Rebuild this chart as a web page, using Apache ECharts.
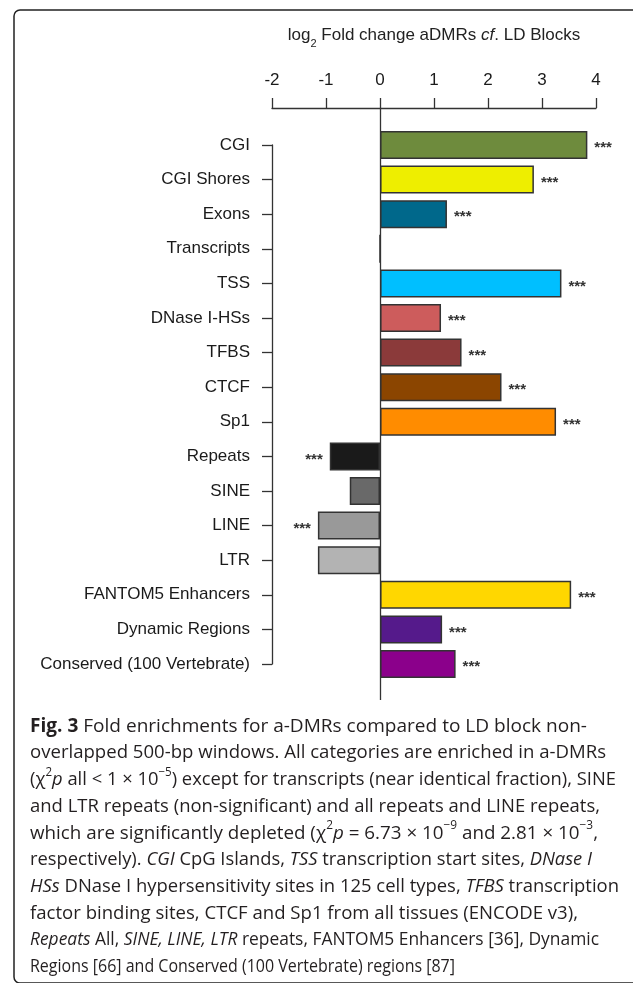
<!DOCTYPE html>
<html>
<head>
<meta charset="utf-8">
<script src="https://cdn.jsdelivr.net/npm/echarts@6/dist/echarts.min.js"></script>
<style>
html,body{margin:0;padding:0;background:#fff;}
#chart{width:633px;height:983px;}
</style>
</head>
<body>
<div id="chart"></div>
<script>
const categories = ['CGI','CGI Shores','Exons','Transcripts','TSS','DNase I-HSs','TFBS','CTCF','Sp1','Repeats','SINE','LINE','LTR','FANTOM5 Enhancers','Dynamic Regions','Conserved (100 Vertebrate)'];
const values = [3.84, 2.85, 1.24, 0, 3.36, 1.13, 1.51, 2.25, 3.26, -0.93, -0.56, -1.15, -1.15, 3.54, 1.15, 1.40];
const significant = [true,true,true,false,true,true,true,true,true,true,false,true,false,true,true,true];
const barColors = ['#6e8b3d','#eeee00','#00688b','#bebebe','#00bfff','#cd5c5c','#8b3a3a','#8b4500','#ff8c00','#1a1a1a','#696969','#999999','#b3b3b3','#ffd700','#551a8b','#8b008b'];
const xTicks = [-2,-1,0,1,2,3,4];
const starText = '***';

const captionLines = [
  '{b|Fig. 3} Fold enrichments for a-DMRs compared to LD block non-',
  'overlapped 500-bp windows. All categories are enriched in a-DMRs',
  '(χ{sup|2}{i|p} all < 1 × 10{sup|−5}) except for transcripts (near identical fraction), SINE',
  'and LTR repeats (non-significant) and all repeats and LINE repeats,',
  'which are significantly depleted (χ{sup|2}{i|p} = 6.73 × 10{sup|−9} and 2.81 × 10{sup|−3},',
  'respectively). {i|CGI} CpG Islands, {i|TSS} transcription start sites, {i|DNase I}',
  '{i|HSs} DNase I hypersensitivity sites in 125 cell types, {i|TFBS} transcription',
  'factor binding sites, CTCF and Sp1 from all tissues (ENCODE v3),',
  '{i|Repeats} All, {i|SINE, LINE, LTR} repeats, FANTOM5 Enhancers [36], Dynamic',
  'Regions [66] and Conserved (100 Vertebrate) regions [87]'
];
// layout: right edge of each caption line in the reference (px)
const captionRight = [587, 606, 616, 600, 598, 592, 619, 578, 599, 455];

const chartFont = '"Liberation Sans", Arial, sans-serif';
const capFont = '"Open Sans", "Noto Sans", sans-serif';
const capSize = 19;
const supSize = 12;
const capLH = 26.7;
const capLeft = 30;
const capTop = 713;
const capColor = '#231f20';

const cv = document.createElement('canvas').getContext('2d');
function segFont(style) {
  if (style === 'b') return 'bold ' + capSize + 'px "Open Sans"';
  if (style === 'i') return 'italic ' + capSize + 'px "Open Sans"';
  if (style === 'sup') return supSize + 'px "Open Sans"';
  return capSize + 'px "Open Sans"';
}
function measureRich(line) {
  const re = /\{(\w+)\|([^}]*)\}|([^{]+)/g;
  let m, w = 0;
  while ((m = re.exec(line)) !== null) {
    const style = m[1] || 'n';
    const txt = m[1] ? m[2] : m[3];
    cv.font = segFont(style);
    w += cv.measureText(txt).width;
  }
  return w;
}

const capRich = {
  b:{fontSize:capSize, fontWeight:'bold', fontFamily:capFont, fill:capColor, lineHeight:capLH},
  i:{fontSize:capSize, fontStyle:'italic', fontFamily:capFont, fill:capColor, lineHeight:capLH},
  sup:{fontSize:supSize, fontFamily:capFont, fill:capColor, lineHeight:19, verticalAlign:'top'}
};

const captionGraphics = captionLines.map((line, k) => {
  const w = measureRich(line);
  const s = w > 0 ? (captionRight[k] - capLeft) / w : 1;
  return {
    type:'text', x:capLeft, y:capTop + k * capLH, scaleX:s,
    style:{
      text: line, align:'left', verticalAlign:'top',
      font: capSize + 'px ' + capFont, fill:capColor, lineHeight:capLH,
      rich: capRich
    }
  };
});

const chart = echarts.init(document.getElementById('chart'), null, {renderer:'canvas'});

const barData = values.map((v, i) => ({
  value: v,
  itemStyle: {color: barColors[i]},
  label: {show: significant[i], position: v < 0 ? 'left' : 'right'}
}));

const axisColor = '#333';

const option = {
  animation: false,
  backgroundColor: '#ffffff',
  graphic: [
    {type:'rect', shape:{x:14, y:10, width:660, height:973, r:6}, style:{fill:'none', stroke:'#222', lineWidth:1.5}, z:0},
    {type:'text', x:434, y:35, style:{
      text:'log{sub|2} Fold change aDMRs {i|cf}. LD Blocks',
      align:'center', verticalAlign:'middle',
      font: '17px ' + chartFont, fill:'#222',
      rich:{
        sub:{fontSize:11, fontFamily:chartFont, fill:'#222', lineHeight:28, verticalAlign:'bottom'},
        i:{fontSize:17, fontStyle:'italic', fontFamily:chartFont, fill:'#222', lineHeight:22}
      }
    }}
  ].concat(captionGraphics),
  grid: [
    {left:272, right:37, top:145, bottom:319},
    {left:272, right:37, top:108, bottom:283}
  ],
  xAxis: [
    {type:'value', gridIndex:0, position:'top', offset:37,
     min:xTicks[0], max:xTicks[xTicks.length-1], interval:1,
     axisLine:{show:true, onZero:false, lineStyle:{color:axisColor, width:1.3}},
     axisTick:{show:true, length:10, lineStyle:{color:axisColor, width:1.3}},
     axisLabel:{fontSize:17, color:'#1a1a1a', margin:19, fontFamily:chartFont},
     splitLine:{show:false}},
    {type:'value', gridIndex:1, min:xTicks[0], max:xTicks[xTicks.length-1], show:false}
  ],
  yAxis: [
    {type:'category', gridIndex:0, data:categories, inverse:true, boundaryGap:false,
     axisLine:{show:true, onZero:false, lineStyle:{color:axisColor, width:1.3}},
     axisTick:{show:true, length:10, lineStyle:{color:axisColor, width:1.3}},
     axisLabel:{fontSize:17, color:'#1a1a1a', margin:22, fontFamily:chartFont, interval:0},
     splitLine:{show:false}},
    {type:'value', gridIndex:1, min:0, max:1, show:false}
  ],
  series: [
    {type:'line', xAxisIndex:1, yAxisIndex:1, data:[], z:1, silent:true,
     markLine:{silent:true, symbol:['none','none'], label:{show:false},
       lineStyle:{color:axisColor, width:1.3, type:'solid'}, data:[{xAxis:0}]}},
    {type:'bar', xAxisIndex:0, yAxisIndex:0, data:barData, barWidth:28, clip:false, z:2,
     itemStyle:{borderColor:'#333', borderWidth:1.5},
     label:{formatter: starText, distance:7, fontSize:15, fontWeight:'bold', color:'#333', fontFamily:chartFont, offset:[0,3]}}
  ]
};
chart.setOption(option);
</script>
</body>
</html>
